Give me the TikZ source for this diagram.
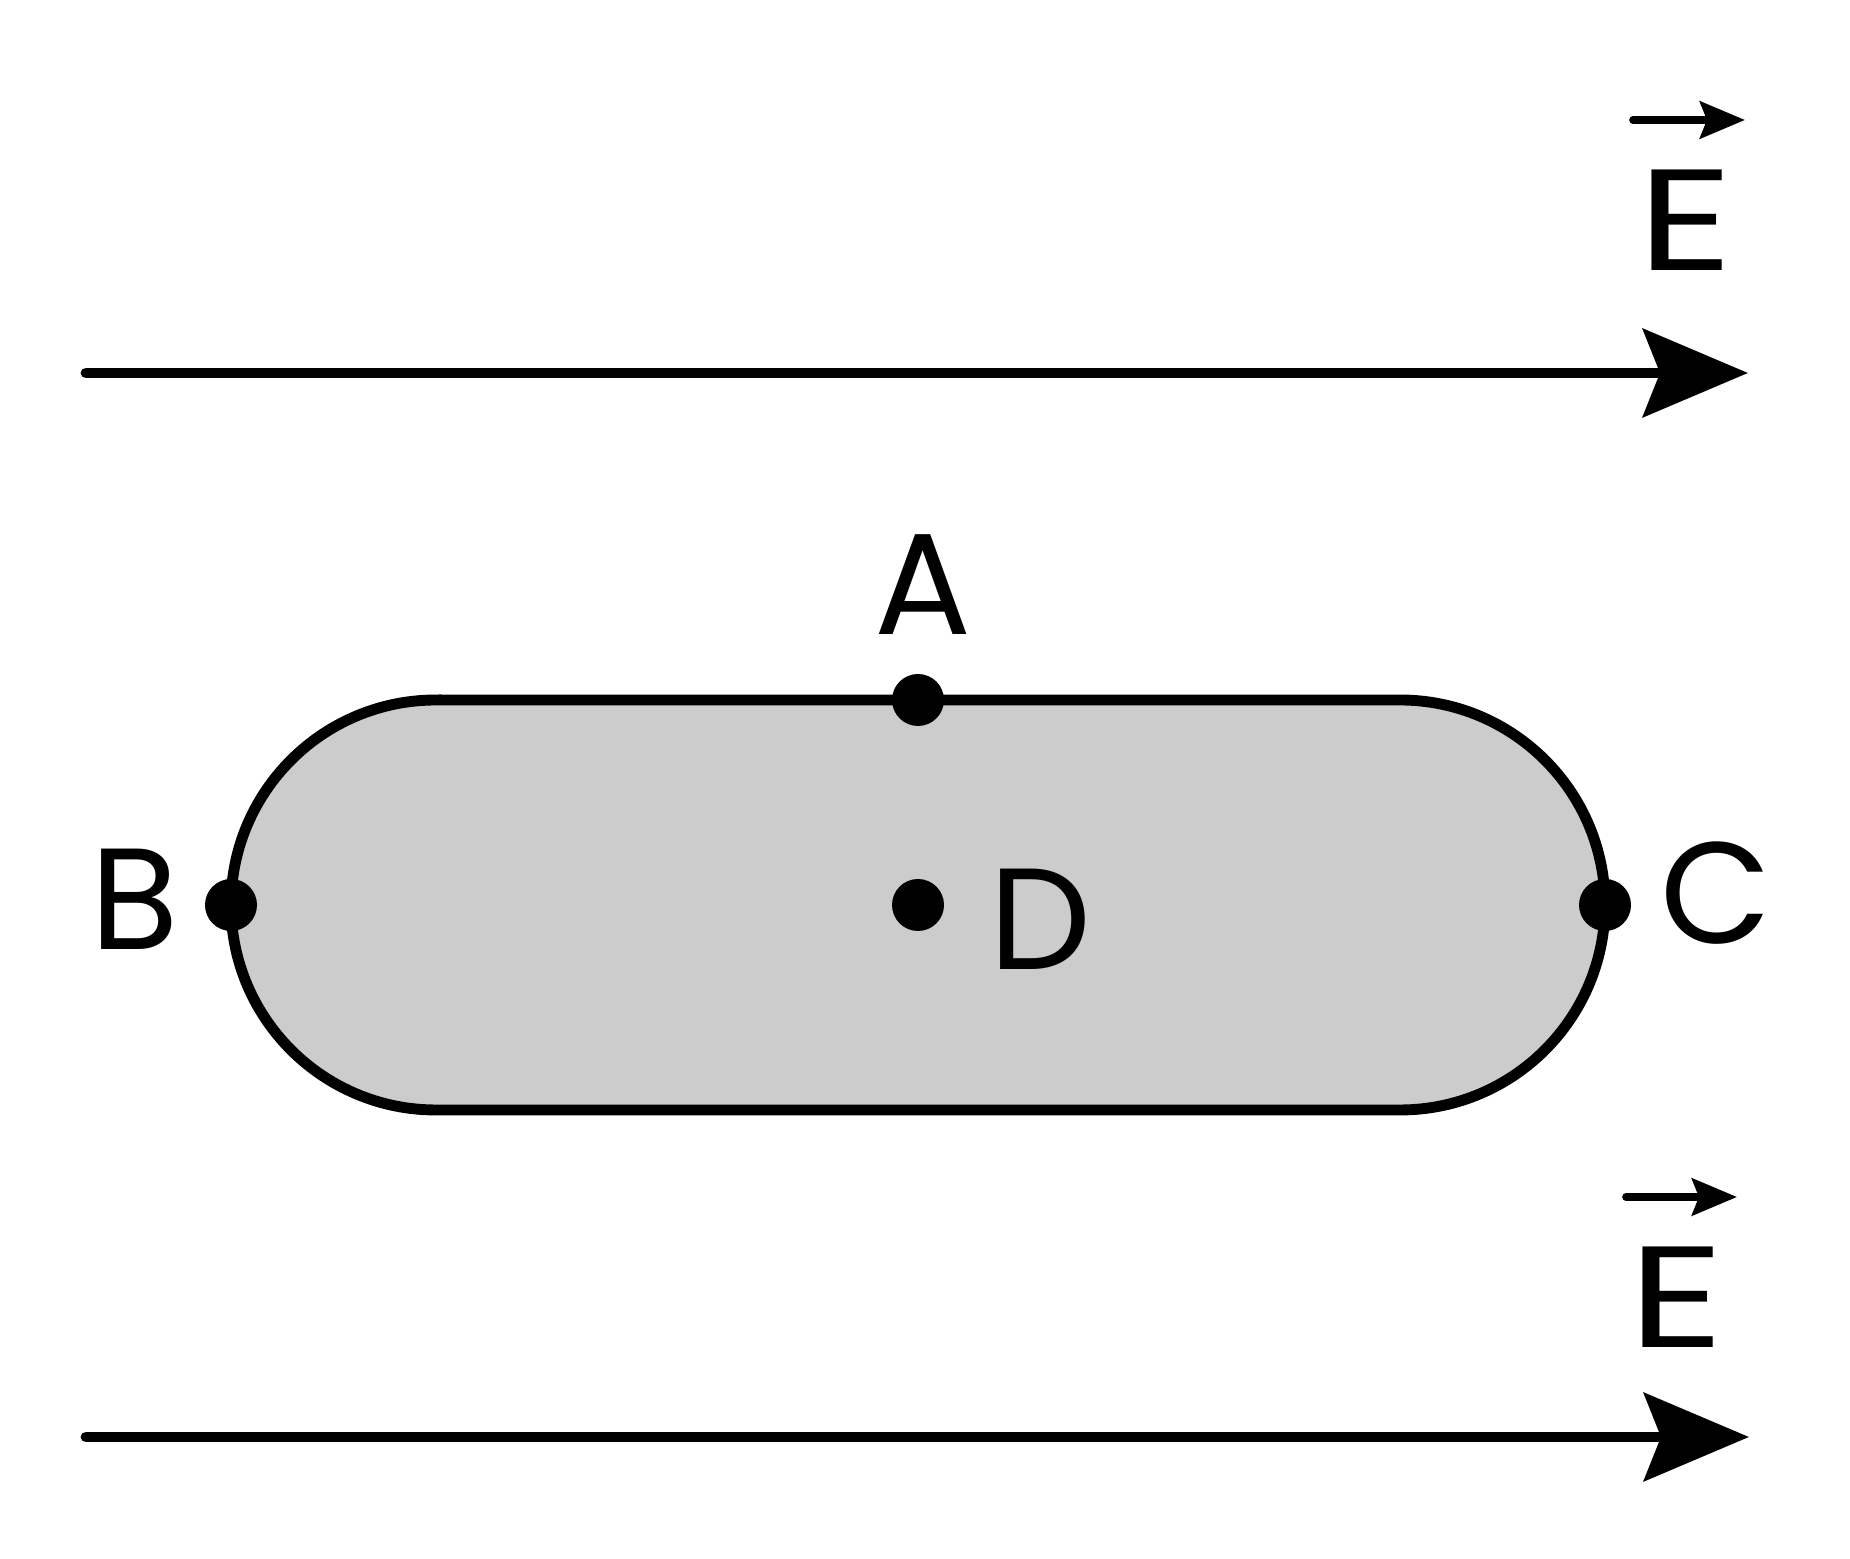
\documentclass[tikz,border=0pt]{standalone}
\usepackage{fontspec}
\setmainfont{Poppins}
\usepackage{tikz}
\usetikzlibrary{arrows.meta, positioning}

\begin{document}
\begin{tikzpicture}[
    field/.style={line width=3.1pt, line cap=round, -{Stealth[length=1.05cm, width=0.88cm, inset=0.17cm]}},
    vecarrow/.style={line width=2.2pt, line cap=round, -{Stealth[length=0.45cm, width=0.37cm, inset=0.07cm]}},
    body/.style={line width=3.1pt, fill=black!20},
    pt/.style={circle, fill=black, inner sep=0pt, minimum size=0.52cm},
    lbl/.style={inner sep=0pt, font=\fontsize{41}{41}\selectfont}]
      \useasboundingbox (0,0) rectangle (18.5,15.59);
      % field lines
      \coordinate (f1s) at (0.86,11.86);
      \coordinate (f1e) at (17.48,11.86);
      \coordinate (f2s) at (0.86,1.22);
      \coordinate (f2e) at (17.49,1.22);
      \draw[field] (f1s)--(f1e);
      \draw[field] (f2s)--(f2e);
      % labels E with arrow
      \node[lbl] (E1) at (16.86,13.39) {\scalebox{1.3}[1]{E}};
      \coordinate (v1s) at (16.33,14.39);
      \coordinate (v1e) at (17.45,14.39);
      \draw[vecarrow] (v1s)--(v1e);
      \node[lbl] (E2) at (16.77,2.62) {\scalebox{1.3}[1]{E}};
      \coordinate (v2s) at (16.26,3.62);
      \coordinate (v2e) at (17.37,3.62);
      \draw[vecarrow] (v2s)--(v2e);
      % conductor
      \draw[body] (4.36,8.59) -- (14.00,8.59) arc[start angle=90, end angle=-90, radius=2.05]
        -- (4.36,4.49) arc[start angle=270, end angle=90, radius=2.05] -- cycle;
      % points
      \node[pt] (pA) at (9.18,8.59) {};
      \node[pt] (pB) at (2.31,6.54) {};
      \node[pt] (pC) at (16.05,6.54) {};
      \node[pt] (pD) at (9.18,6.54) {};
      \node[lbl] (lA) at (9.23,9.74) {A};
      \node[lbl] (lB) at (1.35,6.60) {B};
      \node[lbl] (lC) at (17.16,6.66) {C};
      \node[lbl] (lD) at (10.40,6.40) {D};
\end{tikzpicture}
\end{document}
